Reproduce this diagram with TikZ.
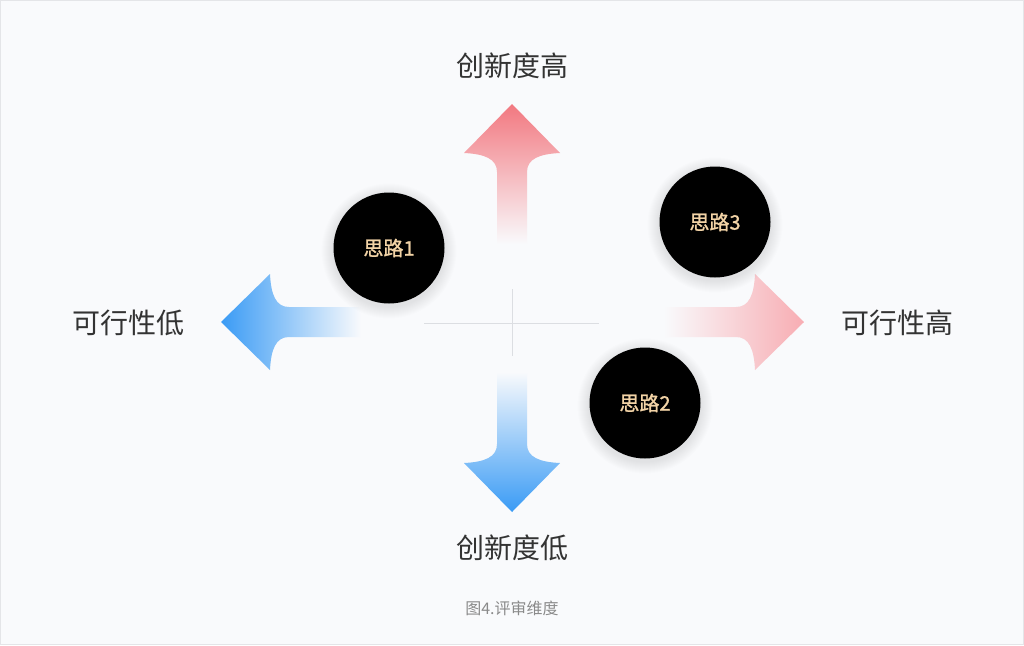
\documentclass[tikz,border=0pt]{standalone}
\usepackage{fontspec}
\setmainfont{Noto Sans CJK SC}
\newfontfamily\ideafont{Noto Sans CJK SC}[FakeBold=1.3]
\definecolor{bgc}{HTML}{F9FAFC}
\definecolor{bordc}{HTML}{E4E5E8}
\definecolor{crossc}{HTML}{DCDEE2}
\definecolor{pk1}{HTML}{F27880}
\definecolor{pk2}{HTML}{FAD6D9}
\definecolor{pkr1}{HTML}{F8ADB3}
\definecolor{pkr2}{HTML}{FCE2E4}
\definecolor{bl1}{HTML}{3A9BF5}
\definecolor{bl2}{HTML}{CFE6FB}
\definecolor{tan}{HTML}{F2D3A6}
\definecolor{labc}{HTML}{333333}
\definecolor{capc}{HTML}{8A8A8A}
\tikzset{
  arrowshape/.style={insert path={(0,0) -- (-48,49) .. controls (-27,50) and (-15,55) .. (-15,68) -- (-15,140) -- (15,140) -- (15,68) .. controls (15,55) and (27,50) .. (48,49) -- cycle}},
  idea/.style={circle, fill=black, minimum size=111pt, inner sep=0pt, text=tan, font=\ideafont\fontsize{20}{20}\selectfont},
  lab/.style={text=labc, inner sep=0pt, font=\fontsize{28}{28}\selectfont},
  captext/.style={text=capc, inner sep=0pt, font=\fontsize{16}{16}\selectfont},
  crossline/.style={draw=crossc, line width=1pt},
  glow/.style={fill=black, opacity=0.007}
}
\begin{document}
\begin{tikzpicture}[x=1pt,y=-1pt]
\useasboundingbox (0,0) rectangle (1024,645);
\fill[bgc] (0,0) rectangle (1024,645);
\draw[bordc, line width=1pt] (0.5,0.5) rectangle (1023.5,644.5);

% cross
\coordinate (hl) at (424,323);
\coordinate (hr) at (599,323);
\coordinate (vt) at (512.5,289);
\coordinate (vb) at (512.5,356);
\draw[crossline] (hl) -- (hr);
\draw[crossline] (vt) -- (vb);

% arrows
\begin{scope}[shift={(512,104)}]
  \shade[top color=pk1, middle color=pk2, bottom color=bgc] [arrowshape];
\end{scope}
\begin{scope}[shift={(512,512)}, rotate=180]
  \shade[bottom color=bl1, middle color=bl2, top color=bgc] [arrowshape];
\end{scope}
\begin{scope}[shift={(221,322)}, rotate=90]
  \shade[left color=bl1, middle color=bl2, right color=bgc] [arrowshape];
\end{scope}
\begin{scope}[shift={(804,322)}, rotate=-90]
  \shade[right color=pkr1, middle color=pkr2, left color=bgc] [arrowshape];
\end{scope}

% glows
\foreach \cx/\cy in {389/248, 715/222, 645/403}{
  \foreach \r in {1,...,12}{
    \fill[glow] (\cx,\cy+3) circle (55.5+\r);
  }
}

% ideas
\node[idea] (s1) at (389,248) {思路1};
\node[idea] (s3) at (715,222) {思路3};
\node[idea] (s2) at (645,403) {思路2};

% labels
\node[lab] (ctop) at (512,66) {创新度高};
\node[lab] (cbot) at (512,548) {创新度低};
\node[lab] (fleft) at (128,323) {可行性低};
\node[lab] (fright) at (897,323) {可行性高};
\node[captext] (caption) at (512,608) {图4.评审维度};
\end{tikzpicture}
\end{document}
